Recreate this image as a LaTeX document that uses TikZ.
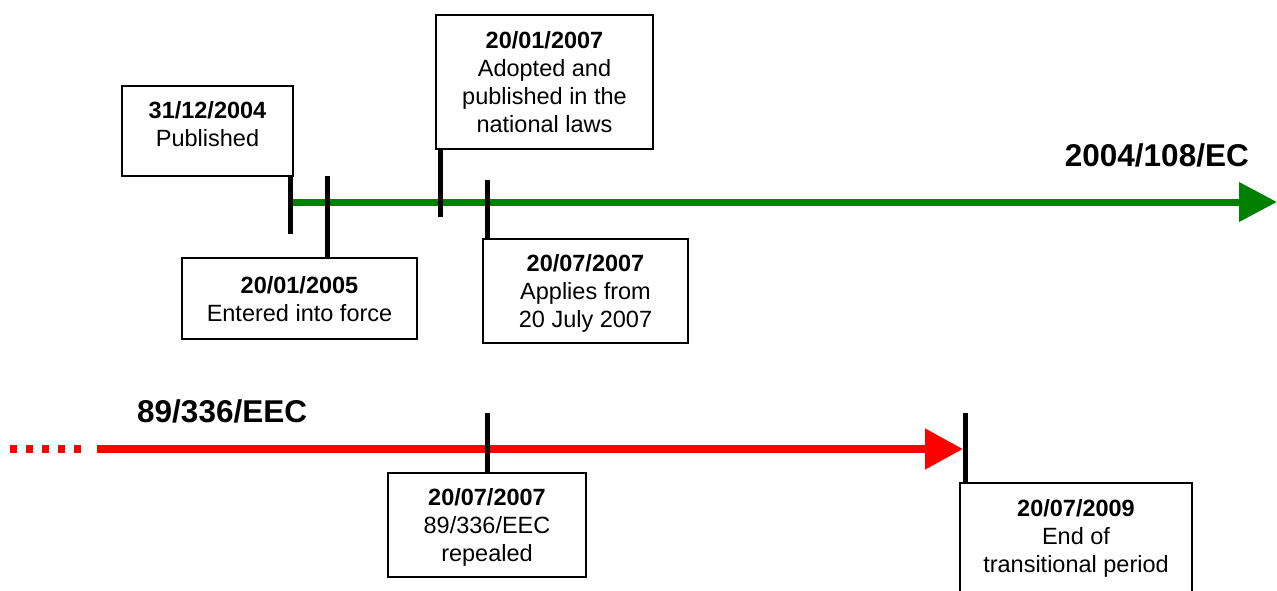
\documentclass[tikz,border=0pt]{standalone}
\usepackage{fontspec}
\setmainfont{Liberation Sans}
\usetikzlibrary{arrows.meta}
\definecolor{lawgreen}{RGB}{0,128,0}
\definecolor{lawred}{RGB}{255,0,0}
\begin{document}
\begin{tikzpicture}[x=1pt,y=-1pt,
  box/.style={draw=black,line width=1.8pt,fill=white,inner sep=0pt,align=center,
              text depth=0pt,font=\fontsize{23.5}{28}\selectfont},
  txt/.style={inner sep=0pt,align=center,text depth=0pt,font=\fontsize{23.5}{28}\selectfont},
  tickline/.style={line width=5pt,black},
  lawlabel/.style={inner sep=0pt,font=\fontsize{31.5}{36}\selectfont\bfseries},
  ]
\clip (0,0) rectangle (1277,591);
\fill[white] (0,0) rectangle (1277,591);

% timelines
\coordinate (gS) at (290,202);
\coordinate (gE) at (1277,202);
\draw[line width=7pt,lawgreen,-{Triangle[length=38pt,width=38pt]}] (gS) -- (gE);

\coordinate (rD1) at (10,449);
\coordinate (rD2) at (82,449);
\draw[line width=8pt,lawred,dash pattern=on 7pt off 9pt] (rD1) -- (rD2);
\coordinate (rS) at (97,449);
\coordinate (rE) at (963,449);
\draw[line width=8pt,lawred,-{Triangle[length=38pt,width=39pt]}] (rS) -- (rE);

% law labels
\node[lawlabel,anchor=base east] (lawA) at (1249,167) {2004/108/EC};
\node[lawlabel,anchor=base west] (lawB) at (137,422) {89/336/EEC};

% boxes
\node[box,minimum width=171pt,minimum height=90pt] (box1) at (207.5,131) {};
\node[txt] (box1txt) at (207.5,124) {\textbf{31/12/2004}\\Published};
\node[box,minimum width=235pt,minimum height=81pt] (box2) at (299.5,298.5)
  {\textbf{20/01/2005}\\Entered into force};
\node[box,minimum width=217pt,minimum height=134pt] (box3) at (544.5,82)
  {\textbf{20/01/2007}\\Adopted and\\published in the\\national laws};
\node[box,minimum width=205pt,minimum height=104pt] (box4) at (585.5,291)
  {\textbf{20/07/2007}\\Applies from\\20 July 2007};
\node[box,minimum width=198pt,minimum height=104pt] (box5) at (487,525)
  {\textbf{20/07/2007}\\89/336/EEC\\repealed};
\node[box,minimum width=232pt,minimum height=140pt] (box6) at (1076,553) {};
\node[txt] (box6txt) at (1076,535.5) {\textbf{20/07/2009}\\End of\\transitional period};

% ticks
\coordinate (t1b) at (290,234);
\draw[tickline] (box1.south -| t1b) -- (t1b);
\coordinate (t2a) at (327,176);
\draw[tickline] (t2a) -- (t2a |- box2.north);
\coordinate (t3b) at (440,217);
\draw[tickline] (box3.south -| t3b) -- (t3b);
\coordinate (t4a) at (487,180);
\draw[tickline] (t4a) -- (t4a |- box4.north);
\coordinate (t5a) at (487,413);
\draw[tickline] (t5a) -- (t5a |- box5.north);
\coordinate (t6a) at (965,413);
\draw[tickline] (t6a) -- (t6a |- box6.north);
\end{tikzpicture}
\end{document}
